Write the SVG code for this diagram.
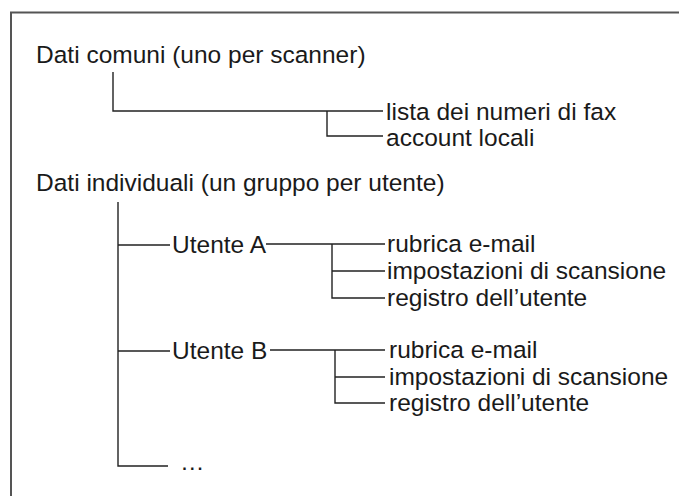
<svg xmlns="http://www.w3.org/2000/svg" width="679" height="496" viewBox="0 0 679 496">
<style>
text{font-family:"Liberation Sans",Arial,sans-serif;font-size:24.5px;fill:#1a1a1a}
.c{fill:none;stroke:#222;stroke-width:1.4}
.f{fill:none;stroke:#555;stroke-width:2}
</style>
<rect width="679" height="496" fill="#fff"/>
<path class="f" d="M11,496 V12.5 H679"/>
<g id="connectors">
<path class="c" d="M113,72 V111 H383 M327,111 V136 H383"/>
<path class="c" d="M118,202 V466 H168"/>
<path class="c" d="M118,245 H170 M266,244 H385 M332,244 V298 H385 M332,271 H385"/>
<path class="c" d="M118,351 H170 M270,350 H385 M335,350 V403 H385 M335,377 H385"/>
</g>
<g id="common"><text x="36" y="63">Dati comuni (uno per scanner)</text></g>
<g id="fax"><text x="386" y="120">lista dei numeri di fax</text></g>
<g id="accounts"><text x="386" y="146">account locali</text></g>
<g id="individual"><text x="36" y="191">Dati individuali (un gruppo per utente)</text></g>
<g id="userA"><text x="172" y="253">Utente A</text></g>
<g id="userA-mail"><text x="387" y="252">rubrica e-mail</text></g>
<g id="userA-scan"><text x="387" y="279">impostazioni di scansione</text></g>
<g id="userA-log"><text x="387" y="306">registro dell’utente</text></g>
<g id="userB"><text x="172" y="359">Utente B</text></g>
<g id="userB-mail"><text x="389" y="358">rubrica e-mail</text></g>
<g id="userB-scan"><text x="389" y="385">impostazioni di scansione</text></g>
<g id="userB-log"><text x="389" y="411">registro dell’utente</text></g>
<g id="more"><text x="180" y="470">…</text></g>
</svg>
